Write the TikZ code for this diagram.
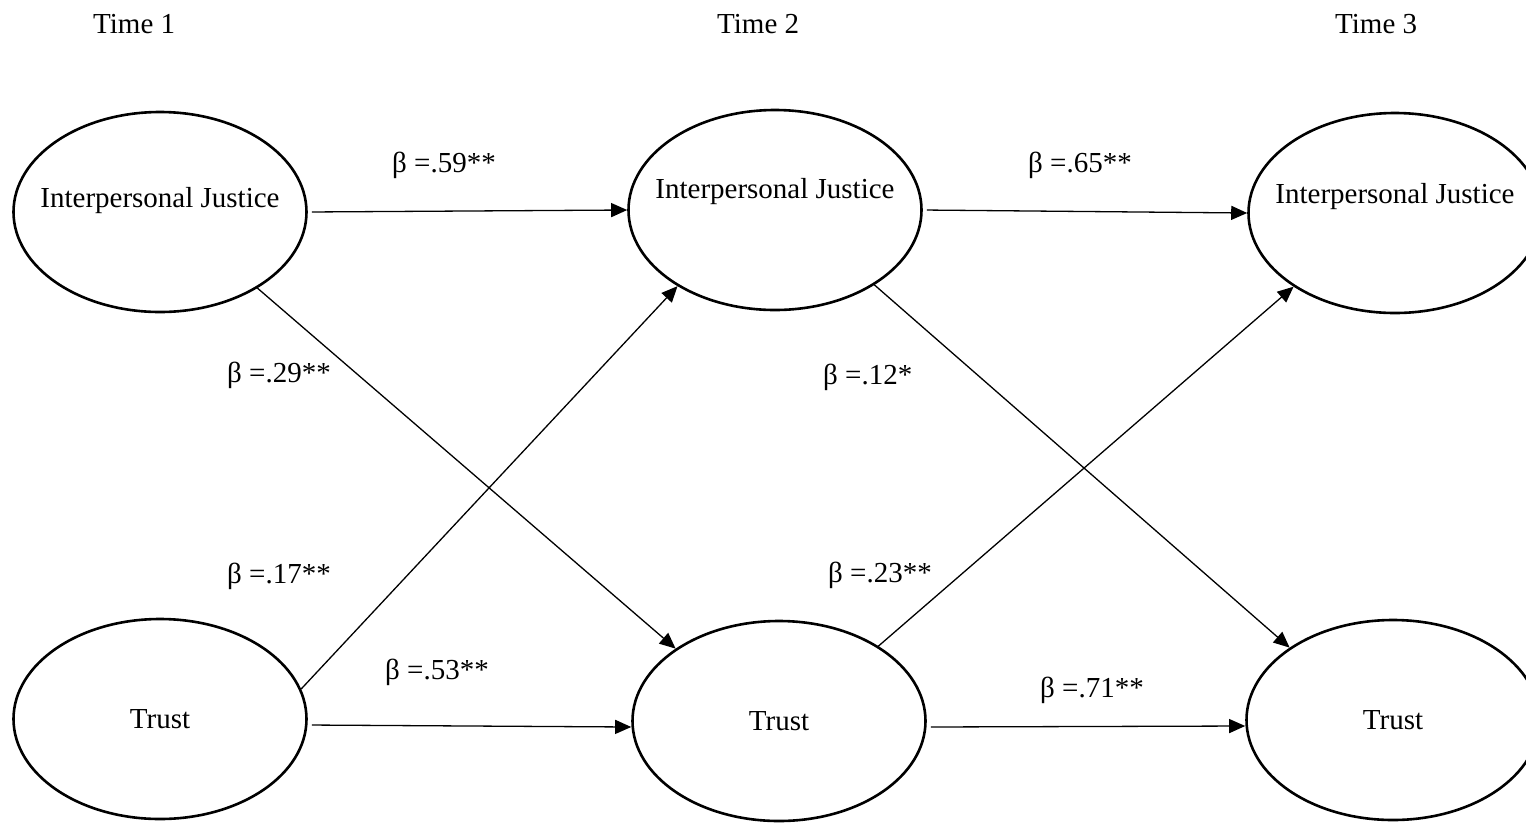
\documentclass[tikz,border=0pt]{standalone}
\usepackage{fontspec}
\setmainfont{Liberation Serif}
\usetikzlibrary{positioning, arrows.meta, shapes.geometric}

\begin{document}
\begin{tikzpicture}[
    x=1pt, y=-1pt,
    >={Triangle[length=16pt, width=14pt]},
    latent/.style={ellipse, draw=black, line width=2.6pt, minimum width=293pt,
                   minimum height=200pt, inner sep=0pt,
                   font=\fontsize{29}{34}\selectfont},
    jtext/.style={font=\fontsize{29}{34}\selectfont, yshift=#1},
    jtext/.default=16pt,
    path/.style={->, line width=1.3pt, black},
    hpath/.style={path, shorten <=4pt},
    coef/.style={anchor=base west, inner sep=0pt, font=\fontsize{29}{34}\selectfont},
    timelbl/.style={anchor=base west, inner sep=0pt, font=\fontsize{29}{34}\selectfont},
]
\useasboundingbox (0,0) rectangle (1526,823);

% Time headers
\node[timelbl] (time1) at (93,33) {Time 1};
\node[timelbl] (time2) at (717,33) {Time 2};
\node[timelbl] (time3) at (1335,33) {Time 3};

% Row 1: Interpersonal Justice
\node[latent, label={[jtext=11pt]center:Interpersonal Justice}] (ij1) at (160,212) {};
\node[latent, label={[jtext=18pt]center:Interpersonal Justice}] (ij2) at (775,210) {};
\node[latent, label={[jtext=16pt]center:Interpersonal Justice}] (ij3) at (1395,213) {};

% Row 2: Trust
\node[latent] (tr1) at (160,719) {Trust};
\node[latent] (tr2) at (779,721) {Trust};
\node[latent] (tr3) at (1393,720) {Trust};

% === Arrows ===
% Stability paths
\draw[hpath] (ij1.east) -- (ij2.west);
\draw[hpath] (ij2.east) -- (ij3.west);
\draw[hpath] ([yshift=-6pt]tr1.east) -- ([yshift=-6pt]tr2.west);
\draw[hpath] ([yshift=-6pt]tr2.east) -- ([yshift=-6pt]tr3.west);

% Cross-lagged paths
\draw[path] (ij1.-38) -- (tr2.145);
\draw[path] (tr1.12) -- (ij2.-142);
\draw[path] (ij2.-37) -- (tr3.145);
\draw[path] (tr2.37) -- (ij3.-144);

% Coefficients
\node[coef] (b59) at (392,172) {β =.59**};
\node[coef] (b65) at (1028,172) {β =.65**};
\node[coef] (b29) at (227,382) {β =.29**};
\node[coef] (b12) at (823,384) {β =.12*};
\node[coef] (b17) at (227,583) {β =.17**};
\node[coef] (b23) at (828,582) {β =.23**};
\node[coef] (b53) at (385,679) {β =.53**};
\node[coef] (b71) at (1040,697) {β =.71**};

\end{tikzpicture}
\end{document}
